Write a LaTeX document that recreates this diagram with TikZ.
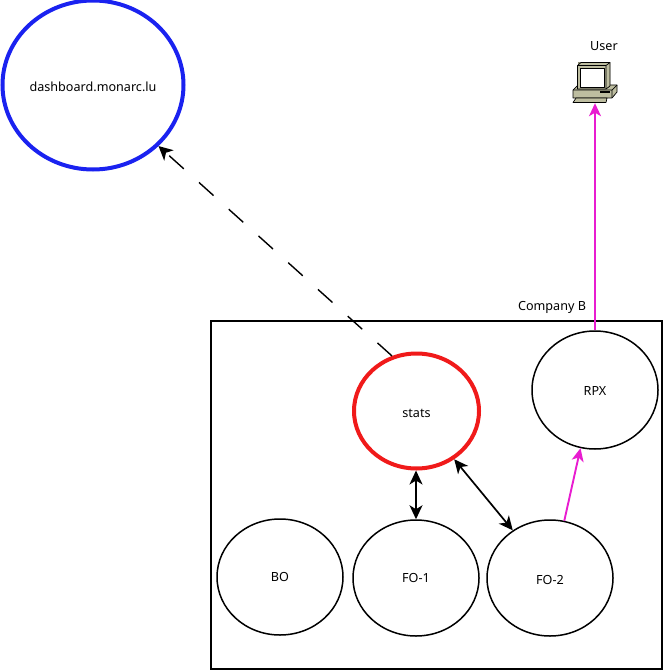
\documentclass[tikz,border=0pt]{standalone}
\usepackage{fontspec}
\setmainfont{Noto Sans}
\usetikzlibrary{shapes.geometric,arrows.meta}
\definecolor{pinkline}{HTML}{E81CD0}
\definecolor{blueline}{HTML}{1A22F0}
\definecolor{redline}{HTML}{F01A1A}
\definecolor{pcbody}{HTML}{BDBDA0}
\definecolor{pcdark}{HTML}{8A8A70}
\newcommand{\lowertext}[2]{\raisebox{-#1pt}[\height][\depth]{#2}}
\tikzset{
  circlenode/.style={draw=black,line width=1.5pt,ellipse,inner sep=0pt,minimum width=126pt,minimum height=116pt,font=\fontsize{12.6}{14}\selectfont},
  label text/.style={font=\fontsize{12.6}{14}\selectfont,inner sep=0pt},
  link/.style={line width=1.7pt,{Stealth[length=14pt,width=13pt,inset=4pt]}-{Stealth[length=14pt,width=13pt,inset=4pt]}},
  pinklink/.style={draw=pinkline,line width=1.9pt,-{Stealth[length=13pt,width=12pt,inset=3.5pt]}},
  dashlink/.style={line width=1.4pt,dash pattern=on 19.5pt off 20.5pt,-{Stealth[length=14pt,width=14pt,inset=4pt]}},
  pcpart/.style={draw=black,line width=0.7pt,line join=round},
}
\begin{document}
\begin{tikzpicture}[x=1pt,y=-1pt]
\useasboundingbox (0,0) rectangle (664,671);
\node[draw=black,line width=1.5pt,minimum width=451pt,minimum height=348pt,inner sep=0pt] (box) at (436.5,495) {};
\node[label text,anchor=base] (company) at (552,310) {Company B};
\node[circlenode,draw=blueline,line width=4pt,minimum width=181pt,minimum height=169pt] (dash) at (93,85) {\lowertext{2}{dashboard.monarc.lu}};
\node[circlenode,draw=redline,line width=4pt,minimum width=125pt,minimum height=115pt] (stats) at (416.5,411) {\lowertext{2}{stats}};
\node[circlenode,minimum height=118pt] (rpx) at (595,390) {\lowertext{1}{RPX}};
\node[circlenode] (bo) at (280,577) {BO};
\node[circlenode] (fo1) at (416,578) {FO-1};
\node[circlenode] (fo2) at (550,578) {\lowertext{2}{FO-2}};
\node[label text,anchor=base] (user) at (604,51) {User};
% computer icon
\fill[pcdark] (578,62) -- (583,62.5) -- (610,62.5) -- (610,85) -- (578,85) -- cycle;
\draw[pcpart,fill=pcbody] (573,90) -- (578,85) -- (617,85) -- (617,92) -- (612,98) -- (573,98) -- cycle;
\draw[pcpart] (573,90) -- (612,90) -- (617,85) (612,90) -- (612,98);
\draw[pcpart,fill=pcbody] (577.5,65.5) -- (581,62.5) -- (610,62.5) -- (610,86) -- (606,89) -- (577.5,89) -- cycle;
\draw[pcpart] (577.5,65.5) -- (606,65.5) -- (610,62.5) (606,65.5) -- (606,89);
\draw[pcpart,fill=white] (580,68) rectangle (604,87);
\fill[black] (600,91.5) rectangle (610,93.5);
\draw[pcpart,fill=pcbody] (573,102.5) -- (576,98) -- (607,98) -- (606,102.5) -- cycle;
\node[inner sep=0pt,minimum width=44pt,minimum height=42pt] (pc) at (595,82) {};
% connectors
\draw[dashlink] (stats.114.4) -- (dash.-43.2);
\draw[link] (stats.south -| fo1.north) -- (fo1.north);
\draw[link] (stats.-52) -- (fo2.128);
\draw[pinklink] (fo2.76) -- (rpx.256);
\draw[pinklink] (rpx.north) -- (pc.south);
\end{tikzpicture}
\end{document}
